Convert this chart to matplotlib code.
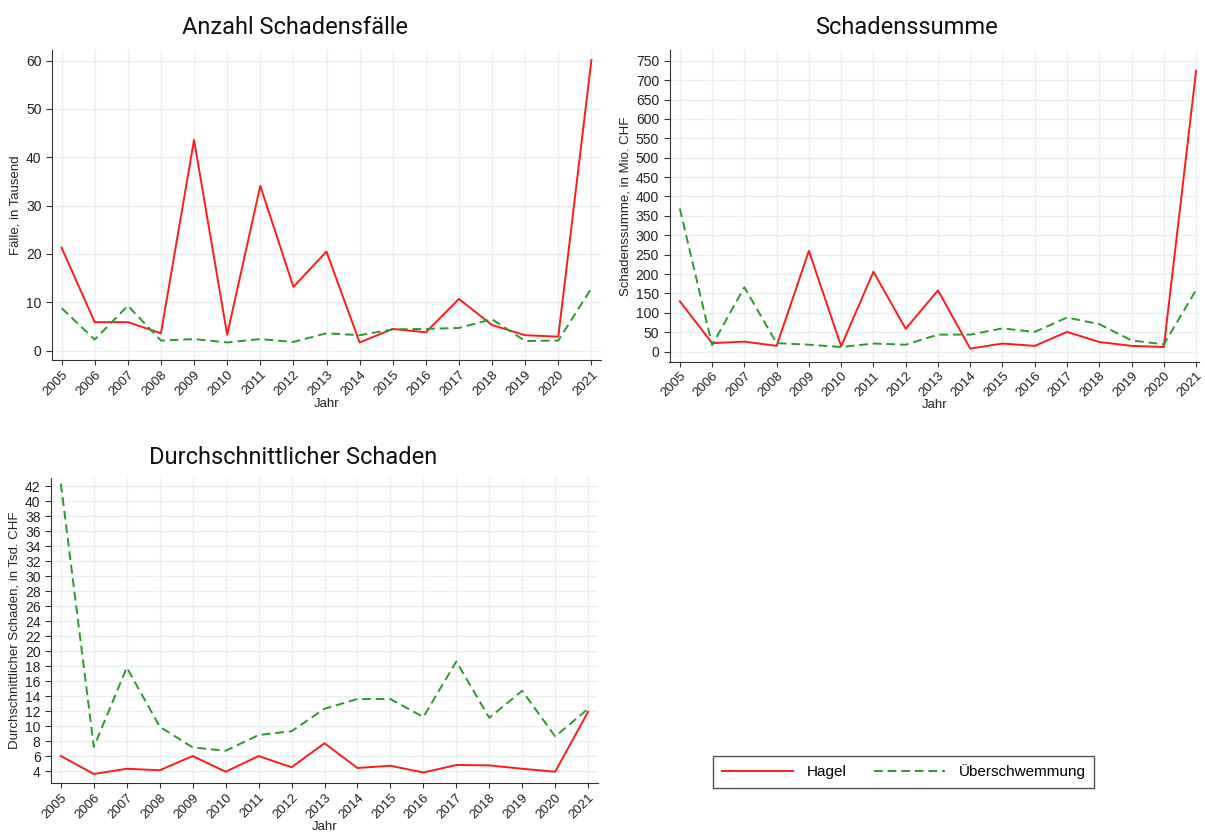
import matplotlib.pyplot as plt
import numpy as np

plt.rcParams['font.family'] = ['Liberation Sans', 'DejaVu Sans']

jahre = np.arange(2005, 2022)

# Anzahl Schadensfälle, in Tausend
faelle_hagel = [21.3, 5.9, 5.9, 3.6, 43.6, 3.3, 34.1, 13.2, 20.5, 1.7, 4.5, 3.8, 10.7, 5.3, 3.2, 2.9, 60.1]
faelle_wasser = [8.8, 2.3, 9.3, 2.1, 2.4, 1.7, 2.4, 1.8, 3.6, 3.2, 4.4, 4.5, 4.7, 6.5, 2.0, 2.1, 12.9]

# Schadenssumme, in Mio. CHF
summe_hagel = [130, 22, 26, 15, 260, 14, 206, 59, 158, 8, 21, 15, 51, 25, 15, 12, 724]
summe_wasser = [369, 17, 166, 22, 18, 12, 21, 18, 44, 44, 60, 51, 88, 71, 29, 19, 159]

# Durchschnittlicher Schaden, in Tsd. CHF
schnitt_hagel = [6.0, 3.6, 4.3, 4.1, 6.0, 3.9, 6.0, 4.5, 7.7, 4.4, 4.7, 3.8, 4.8, 4.75, 4.3, 3.9, 11.9]
schnitt_wasser = [42.3, 7.2, 17.8, 9.9, 7.15, 6.7, 8.8, 9.3, 12.3, 13.6, 13.6, 11.2, 18.6, 11.1, 14.7, 8.6, 12.3]

rot = '#ff1a1a'
gruen = '#2a9a2a'
grid_col = '#e8f0f2'
W, H = 1205, 834

fig = plt.figure(figsize=(W / 100, H / 100), dpi=100)


def mkax(x0, x1, y0, y1):
    # pixel box -> figure fractions
    return fig.add_axes([x0 / W, 1 - y1 / H, (x1 - x0) / W, (y1 - y0) / H])


def panel(ax, hagel, wasser, yticks, ylim, xlim, ylabel, title, title_x, title_y):
    ax.plot(jahre, hagel, color=rot, lw=1.4, label='Hagel')
    ax.plot(jahre, wasser, color=gruen, lw=1.4, dashes=(4.5, 2.5), label='Überschwemmung')
    ax.set_xlim(*xlim)
    ax.set_ylim(*ylim)
    ax.set_xticks(jahre)
    ax.set_xticklabels([str(j) for j in jahre], rotation=45, ha='right',
                       rotation_mode='anchor', fontsize=9.5)
    ax.set_yticks(yticks)
    ax.tick_params(axis='y', labelsize=10, length=4, color='#333333')
    ax.tick_params(axis='x', length=3.5, pad=2.5, color='#333333')
    for t in ax.get_yticklabels() + ax.get_xticklabels():
        t.set_color('#222222')
    ax.grid(True, color=grid_col, lw=1)
    ax.set_axisbelow(True)
    for s in ['top', 'right']:
        ax.spines[s].set_visible(False)
    for s in ['left', 'bottom']:
        ax.spines[s].set_color('#333333')
    ax.set_ylabel(ylabel, fontsize=9.5, color='#222222', labelpad=3)
    ax.set_xlabel('Jahr', fontsize=9.5, color='#222222', labelpad=0)
    fig.text(title_x / W, 1 - title_y / H, title, ha='center', va='center',
             fontsize=17, family='Roboto', color='#111111')


ax1 = mkax(52, 601, 50, 360)
panel(ax1, faelle_hagel, faelle_wasser, np.arange(0, 61, 10), (-1.93, 62.2),
      (2004.71, 2021.29), 'Fälle, in Tausend', 'Anzahl Schadensfälle', 295, 28)

ax2 = mkax(669.5, 1199, 50, 361.7)
panel(ax2, summe_hagel, summe_wasser, np.arange(0, 751, 50), (-25.8, 777.6),
      (2004.68, 2021.09), 'Schadenssumme, in Mio. CHF', 'Schadenssumme', 907, 28)

ax3 = mkax(51, 598, 478, 783)
panel(ax3, schnitt_hagel, schnitt_wasser, np.arange(4, 43, 2), (2.4, 43.07),
      (2004.70, 2021.30), 'Durchschnittlicher Schaden, in Tsd. CHF',
      'Durchschnittlicher Schaden', 293, 457)

handles, labels = ax1.get_legend_handles_labels()
leg = fig.legend(handles, labels, loc='center', bbox_to_anchor=(903.5 / W, 1 - 772 / H),
                 ncol=2, fontsize=11, frameon=True, fancybox=False, handlelength=4.7,
                 columnspacing=1.8, borderpad=0.55, handletextpad=0.85, borderaxespad=0)
leg.get_frame().set_edgecolor('#222222')
leg.get_frame().set_linewidth(1.0)

fig.savefig('out.png', dpi=100)
